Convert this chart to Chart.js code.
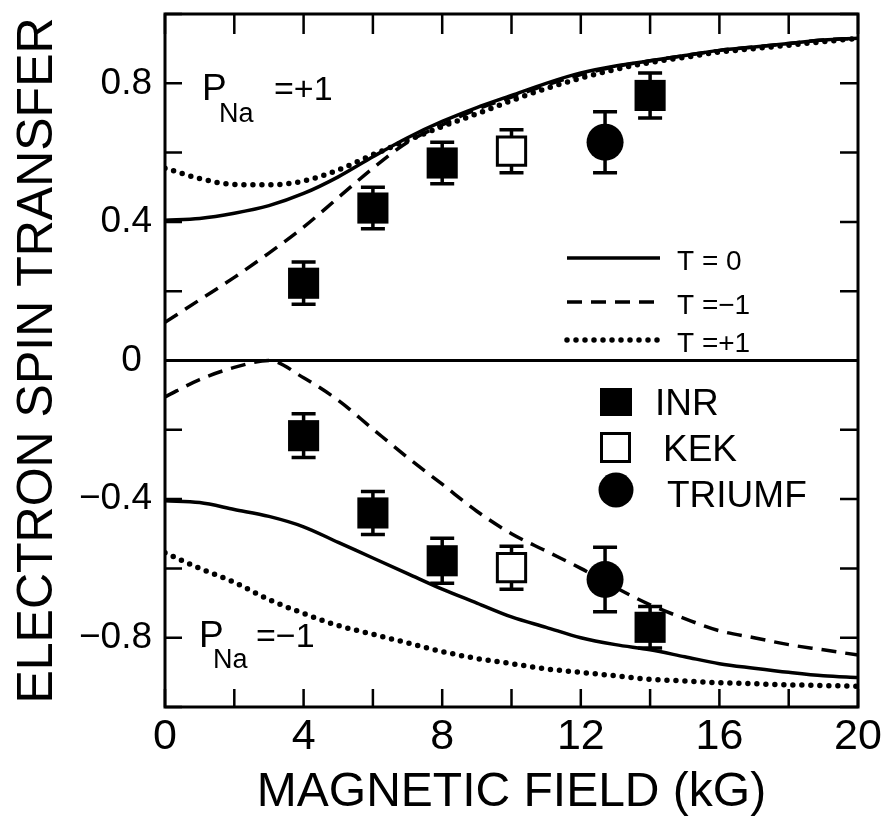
<!DOCTYPE html>
<html>
<head>
<meta charset="utf-8">
<script src="https://cdn.jsdelivr.net/npm/chart.js@4.4.0/dist/chart.umd.min.js"></script>
<style>
  html, body { margin: 0; padding: 0; background: #fff; }
  canvas { display: block; }
</style>
</head>
<body>
<canvas id="chart" width="889" height="819"></canvas>
<script>
// 곡선 (자기장 0..20 kG, 1 kG 간격)
const fieldGrid = [0, 1, 2, 3, 4, 5, 6, 7, 8, 9, 10, 11, 12, 13, 14, 15, 16, 17, 18, 19, 20];

// P_Na = +1
const topT0 = [0.405, 0.41, 0.425, 0.447, 0.482, 0.53, 0.588, 0.643, 0.69, 0.73, 0.765, 0.80, 0.83, 0.85, 0.865, 0.88, 0.895, 0.905, 0.915, 0.925, 0.93];
const topTm1 = [0.11, 0.175, 0.24, 0.31, 0.385, 0.47, 0.555, 0.63, 0.68, 0.725, 0.76, 0.795, 0.825, 0.848, 0.865, 0.88, 0.895, 0.905, 0.915, 0.925, 0.93];
const topTp1 = [0.555, 0.525, 0.508, 0.507, 0.518, 0.55, 0.594, 0.635, 0.675, 0.712, 0.75, 0.785, 0.815, 0.84, 0.86, 0.875, 0.89, 0.90, 0.91, 0.92, 0.93];

// P_Na = -1
const botT0 = [-0.405, -0.41, -0.43, -0.45, -0.48, -0.525, -0.57, -0.615, -0.66, -0.70, -0.74, -0.77, -0.80, -0.82, -0.835, -0.855, -0.875, -0.888, -0.90, -0.91, -0.915];
const botTm1 = [-0.105, -0.055, -0.02, 0.0, -0.05, -0.115, -0.198, -0.28, -0.357, -0.435, -0.50, -0.55, -0.60, -0.655, -0.705, -0.745, -0.78, -0.80, -0.82, -0.835, -0.85];
const botTp1 = [-0.555, -0.60, -0.64, -0.69, -0.73, -0.765, -0.79, -0.815, -0.84, -0.86, -0.875, -0.89, -0.90, -0.91, -0.92, -0.925, -0.93, -0.933, -0.936, -0.938, -0.94];

// 측정값
const inrField = [4, 6, 8, 14];
const inrTop = [0.223, 0.44, 0.57, 0.765];
const inrTopErr = [0.061, 0.06, 0.06, 0.065];
const inrBot = [-0.217, -0.44, -0.578, -0.77];
const inrBotErr = [0.063, 0.062, 0.065, 0.06];

const kekField = [10];
const kekTop = [0.604];
const kekTopErr = [0.062];
const kekBot = [-0.598];
const kekBotErr = [0.062];

const triumfField = [12.7];
const triumfTop = [0.63];
const triumfTopErr = [0.088];
const triumfBot = [-0.632];
const triumfBotErr = [0.093];

const FONT = '"Liberation Sans", Arial, sans-serif';

const pts = (xs, ys, es) => xs.map((x, i) => ({ x: x, y: ys[i], err: es ? es[i] : 0 }));

const solid = { borderColor: "#000", borderWidth: 3.5, borderDash: [] };
const dashed = { borderColor: "#000", borderWidth: 3.5, borderDash: [15, 9] };
const dotted = { borderColor: "#000", borderWidth: 5.5, borderDash: [0, 9], borderCapStyle: "round" };

const curve = (ys, style) => Object.assign({
  data: pts(fieldGrid, ys),
  showLine: true,
  pointRadius: 0,
  cubicInterpolationMode: "monotone",
  fill: false,
}, style);

// 에러바 플러그인
const errorBars = {
  id: "errorBars",
  beforeDatasetsDraw(chart) {
    const { ctx, scales: { x, y } } = chart;
    ctx.save();
    ctx.strokeStyle = "#000";
    ctx.lineWidth = 3.5;
    chart.data.datasets.forEach((ds) => {
      if (!ds.errorBars) return;
      ds.data.forEach((p) => {
        const px = x.getPixelForValue(p.x);
        const y1 = y.getPixelForValue(p.y + p.err);
        const y2 = y.getPixelForValue(p.y - p.err);
        ctx.beginPath();
        ctx.moveTo(px, y1); ctx.lineTo(px, y2);
        ctx.moveTo(px - 12, y1); ctx.lineTo(px + 12, y1);
        ctx.moveTo(px - 12, y2); ctx.lineTo(px + 12, y2);
        ctx.stroke();
      });
    });
    ctx.restore();
  },
};

// 테두리, 안쪽 눈금, 주석, 범례
const frame = {
  id: "frame",
  afterDraw(chart) {
    const { ctx, chartArea: a, scales: { x, y } } = chart;
    ctx.save();
    ctx.strokeStyle = "#000";
    ctx.lineWidth = 3;
    ctx.strokeRect(a.left, a.top, a.right - a.left, a.bottom - a.top);

    ctx.lineWidth = 2.5;
    ctx.beginPath();
    x.ticks.forEach((t) => {
      const px = x.getPixelForValue(t.value);
      ctx.moveTo(px, a.bottom); ctx.lineTo(px, a.bottom - 18);
      ctx.moveTo(px, a.top); ctx.lineTo(px, a.top + 20);
    });
    y.ticks.forEach((t) => {
      const py = y.getPixelForValue(t.value);
      ctx.moveTo(a.left, py); ctx.lineTo(a.left + 17, py);
      ctx.moveTo(a.right, py); ctx.lineTo(a.right - 18, py);
    });
    ctx.stroke();

    ctx.fillStyle = "#000";
    ctx.textBaseline = "alphabetic";
    ctx.textAlign = "left";
    // P_Na 라벨
    ctx.font = `37px ${FONT}`;
    ctx.fillText("P", 202, 100);
    ctx.fillText("P", 199, 647);
    ctx.font = `34px ${FONT}`;
    ctx.fillText("=+1", 274, 100);
    ctx.fillText("=\u22121", 256, 647);
    ctx.font = `27px ${FONT}`;
    ctx.fillText("Na", 219, 122);
    ctx.fillText("Na", 213, 668);

    // 선 범례
    const lineLegend = [
      [solid, 258, "T = 0"],
      [dashed, 302, "T =\u22121"],
      [dotted, 340, "T =+1"],
    ];
    lineLegend.forEach(([s, ly, txt]) => {
      ctx.save();
      ctx.lineWidth = s.borderWidth;
      ctx.setLineDash(s.borderDash);
      ctx.lineCap = s.borderCapStyle || "butt";
      ctx.beginPath();
      ctx.moveTo(567, ly); ctx.lineTo(660, ly);
      ctx.stroke();
      ctx.restore();
      ctx.font = `28px ${FONT}`;
      ctx.fillText(txt, 677, ly + 12);
    });

    // 기호 범례
    ctx.fillRect(600, 388, 32, 28);
    ctx.lineWidth = 3;
    ctx.strokeRect(601.5, 433.5, 28, 28);
    ctx.beginPath();
    ctx.arc(616, 490, 17.5, 0, Math.PI * 2);
    ctx.fill();
    ctx.font = `37px ${FONT}`;
    ctx.fillText("INR", 655, 415);
    ctx.fillText("KEK", 663, 461);
    ctx.fillText("TRIUMF", 667, 507);
    ctx.restore();
  },
};

new Chart(document.getElementById("chart"), {
  type: "scatter",
  data: {
    datasets: [
      { data: pts(inrField, inrTop, inrTopErr), errorBars: true, pointStyle: "rect", pointRadius: 22, backgroundColor: "#000", borderColor: "#000", borderWidth: 0 },
      { data: pts(inrField, inrBot, inrBotErr), errorBars: true, pointStyle: "rect", pointRadius: 22, backgroundColor: "#000", borderColor: "#000", borderWidth: 0 },
      { data: pts(kekField, kekTop, kekTopErr), errorBars: true, pointStyle: "rect", pointRadius: 20, backgroundColor: "#fff", borderColor: "#000", borderWidth: 3 },
      { data: pts(kekField, kekBot, kekBotErr), errorBars: true, pointStyle: "rect", pointRadius: 20, backgroundColor: "#fff", borderColor: "#000", borderWidth: 3 },
      { data: pts(triumfField, triumfTop, triumfTopErr), errorBars: true, pointStyle: "circle", pointRadius: 18.5, backgroundColor: "#000", borderColor: "#000", borderWidth: 0 },
      { data: pts(triumfField, triumfBot, triumfBotErr), errorBars: true, pointStyle: "circle", pointRadius: 18.5, backgroundColor: "#000", borderColor: "#000", borderWidth: 0 },
      curve(topT0, solid),
      curve(topTm1, dashed),
      curve(topTp1, dotted),
      curve(botT0, solid),
      curve(botTm1, dashed),
      curve(botTp1, dotted),
    ],
  },
  options: {
    responsive: false,
    animation: false,
    layout: { autoPadding: false, padding: { left: 0, right: 31, top: 14, bottom: 0 } },
    plugins: {
      legend: { display: false },
      tooltip: { enabled: false },
    },
    elements: { point: { hoverRadius: 0 } },
    scales: {
      x: {
        type: "linear",
        min: 0,
        max: 20,
        afterFit(scale) { scale.height = 112; },
        grid: { display: false },
        border: { display: false },
        ticks: {
          stepSize: 2,
          padding: -4,
          color: "#000",
          font: { family: FONT, size: 43 },
          maxRotation: 0,
          autoSkip: false,
          callback: (v) => (Math.round(v) % 4 === 0 ? String(Math.round(v)) : ""),
        },
        title: {
          display: true,
          text: "MAGNETIC FIELD (kG)",
          color: "#000",
          font: { family: FONT, size: 48, lineHeight: 1 },
          padding: { top: 0, bottom: 2 },
        },
      },
      y: {
        type: "linear",
        min: -1,
        max: 1,
        afterFit(scale) {
          scale.width = 165;
          scale.paddingTop = 0;
          scale.paddingBottom = 0;
        },
        border: { display: false },
        grid: {
          drawTicks: false,
          lineWidth: 3,
          color: (c) => (c.tick && Math.abs(c.tick.value) < 1e-9 ? "#000" : "rgba(0,0,0,0)"),
        },
        ticks: {
          stepSize: 0.2,
          padding: 13,
          color: "#000",
          font: { family: FONT, size: 37 },
          autoSkip: false,
          callback: (v) => {
            const r = Math.round(v * 10);
            if (r % 4 !== 0 || Math.abs(r) >= 10) return "";
            if (r === 0) return "0\u00a0";
            return (r < 0 ? "\u2212" : "") + (Math.abs(r) / 10).toFixed(1);
          },
        },
        title: {
          display: true,
          text: "ELECTRON SPIN TRANSFER",
          color: "#000",
          font: { family: FONT, size: 50, lineHeight: 1 },
          padding: { top: 13, bottom: 0 },
        },
      },
    },
  },
  plugins: [errorBars, frame],
});
</script>
</body>
</html>
